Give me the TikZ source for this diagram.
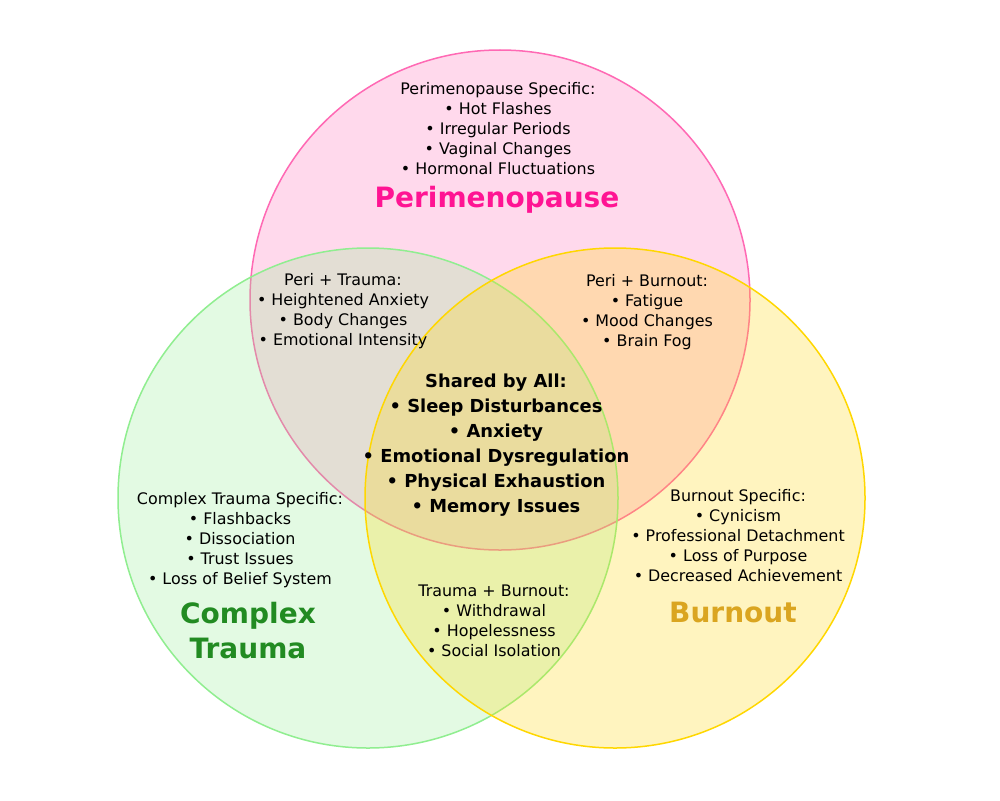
\documentclass[tikz,border=0pt]{standalone}
\usepackage{fontspec}
\setmainfont{DejaVu Sans}
\usepackage{tikz}
\usetikzlibrary{positioning}
\definecolor{perimain}{HTML}{FF69B4}
\definecolor{traumamain}{HTML}{90EE90}
\definecolor{burnmain}{HTML}{FFD700}
\definecolor{perititle}{HTML}{FF1493}
\definecolor{traumatitle}{HTML}{228B22}
\definecolor{burntitle}{HTML}{DAA520}
\tikzset{
    venn/.style = {circle, draw=#1, fill=#1, fill opacity=0.25, draw opacity=1,
                   line width=1.5pt, minimum size=500pt, inner sep=0pt},
    title/.style = {font=\fontsize{28}{35}\selectfont\bfseries, align=center, text=#1},
    lst/.style = {font=\fontsize{15.9}{20}\selectfont, align=center},
    shared/.style = {font=\fontsize{17.9}{25}\selectfont\bfseries, align=center}
}
\begin{document}
\begin{tikzpicture}[x=1pt,y=-1pt]
    \useasboundingbox (0,0) rectangle (1000,800);
    \fill[white] (0,0) rectangle (1000,800);

    % the three circles
    \node (peri) [venn=perimain] at (500,300) {};
    \node (trauma) [venn=traumamain] at (368,498) {};
    \node (burnout) [venn=burnmain] at (615,498) {};

    % titles
    \node (peritxt) [title=perititle] at (497,200) {Perimenopause};
    \node (traumatxt) [title=traumatitle] at (248,631) {Complex\\Trauma};
    \node (burntxt) [title=burntitle] at (733,612) {Burnout};

    % lists
    \node (perilist) [lst] at (498,129) {Perimenopause Specific:\\
        • Hot Flashes\\ • Irregular Periods\\ • Vaginal Changes\\ • Hormonal Fluctuations};
    \node (pt) [lst] at (343,311) {Peri + Trauma:\\
        • Heightened Anxiety\\ • Body Changes\\ • Emotional Intensity};
    \node (pb) [lst] at (647,312) {Peri + Burnout:\\
        • Fatigue\\ • Mood Changes\\ • Brain Fog};
    \node (all) [shared] at (496,445) {Shared by All:\\
        • Sleep Disturbances\\ • Anxiety\\ • Emotional Dysregulation\\
        • Physical Exhaustion\\ • Memory Issues};
    \node (traumalist) [lst] at (240,540) {Complex Trauma Specific:\\
        • Flashbacks\\ • Dissociation\\ • Trust Issues\\ • Loss of Belief System};
    \node (tb) [lst] at (494,621) {Trauma + Burnout:\\
        • Withdrawal\\ • Hopelessness\\ • Social Isolation};
    \node (burnlist) [lst] at (738,536) {Burnout Specific:\\
        • Cynicism\\ • Professional Detachment\\ • Loss of Purpose\\ • Decreased Achievement};
\end{tikzpicture}
\end{document}
